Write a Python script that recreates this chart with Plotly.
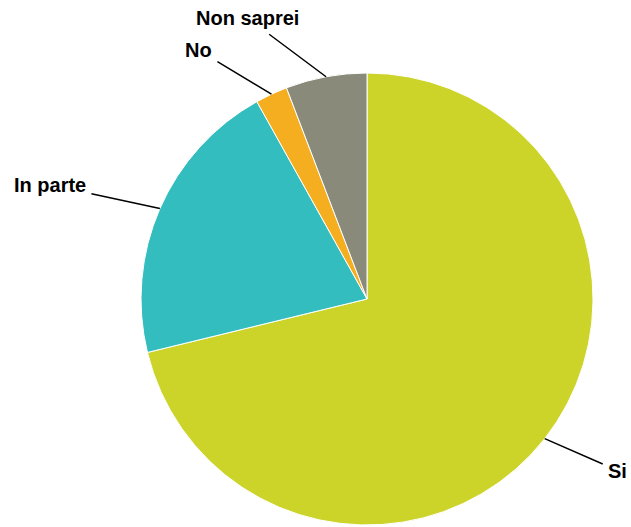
import math
import plotly.graph_objects as go

labels = ["Si", "In parte", "No", "Non saprei"]
values = [71.2, 20.7, 2.3, 5.8]
colors = ["#CDD429", "#33BDBE", "#F5AE1F", "#8A8A7A"]
# label text offsets (px) from slice edge
label_ax = [73, -110, -73, -79]
label_ay = [32, -24, -44, -59]

W, H = 631, 527
dom_x = [0.2235, 0.9398]
dom_y = [0.0038, 0.8615]

fig = go.Figure(go.Pie(
    labels=labels, values=values, sort=False, direction="clockwise", rotation=0,
    marker=dict(colors=colors, line=dict(color="white", width=1)),
    textinfo="none", hoverinfo="label+percent", showlegend=False,
    domain=dict(x=dom_x, y=dom_y),
))

cx = (dom_x[0] + dom_x[1]) / 2 * W
cy = (dom_y[0] + dom_y[1]) / 2 * H
r = min((dom_x[1] - dom_x[0]) * W, (dom_y[1] - dom_y[0]) * H) / 2
total = sum(values)
cum = 0
for lab, v, ax, ay in zip(labels, values, label_ax, label_ay):
    mid = (cum + v / 2) / total * 2 * math.pi
    cum += v
    px = cx + r * math.sin(mid)
    py = cy + r * math.cos(mid)
    fig.add_annotation(x=px / W, y=py / H, xref="paper", yref="paper",
                       text=f"<b>{lab}</b>", showarrow=True, arrowhead=0,
                       arrowwidth=1.5, arrowcolor="black", ax=ax, ay=ay,
                       borderpad=5,
                       font=dict(family="Liberation Sans, Arial", size=20, color="black"))

fig.update_layout(width=W, height=H, margin=dict(l=0, r=0, t=0, b=0),
                  paper_bgcolor="white", plot_bgcolor="white")
fig.write_html("out.html", config={"displayModeBar": False},
               post_script="document.body.style.margin='0';")
